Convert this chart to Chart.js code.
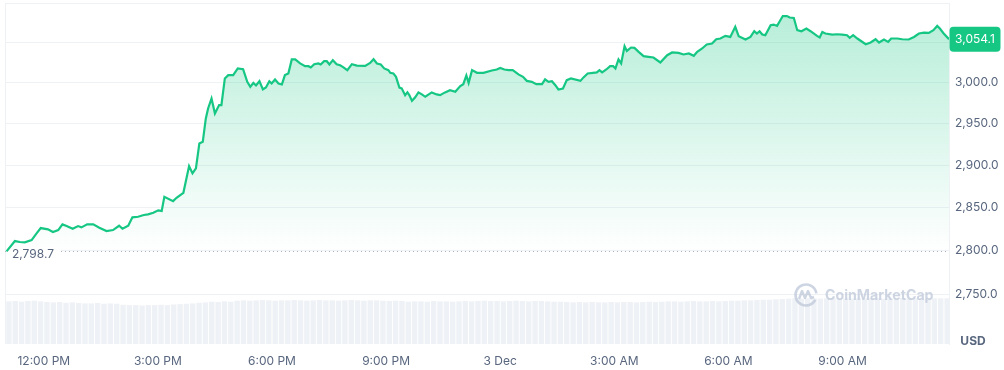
<!DOCTYPE html>
<html lang="en">
<head>
<meta charset="UTF-8">
<title>Price chart</title>
<script src="https://cdn.jsdelivr.net/npm/chart.js"></script>
<style>
  body { margin: 0; background: #fff; }
  canvas { display: block; }
</style>
</head>
<body>
<canvas id="priceChart" width="1004" height="370"></canvas>
<script>
// time in hours since 2 Dec 00:00 (24 = 3 Dec 00:00)
const hours = [11.02,11.24,11.37,11.50,11.68,11.81,11.92,12.11,12.24,12.38,12.49,12.60,12.76,12.90,12.99,13.14,13.30,13.46,13.65,13.82,13.98,14.07,14.22,14.33,14.48,14.63,14.74,14.88,15.01,15.10,
  15.17,15.40,15.49,15.67,15.82,15.91,16.00,16.09,16.18,16.26,16.32,16.41,16.50,16.61,16.67,16.76,16.85,16.98,17.10,17.24,17.35,17.43,17.51,17.58,17.67,17.76,17.84,17.93,17.99,18.08,18.17,18.26,18.34,18.43,18.52,18.61,18.74,18.87,18.96,19.02,19.11,19.22,19.28,19.37,19.44,19.51,19.60,19.70,19.79,
  19.86,19.98,20.10,20.23,20.45,20.58,20.67,20.76,20.86,20.95,21.06,21.11,21.19,21.26,21.35,21.41,21.50,21.56,21.61,21.68,21.76,21.85,21.94,22.03,22.20,22.33,22.42,22.55,22.68,22.82,22.95,23.03,23.11,23.17,23.26,23.39,23.56,23.78,23.91,24.00,
  24.11,24.22,24.33,24.48,24.60,24.70,24.83,24.95,25.10,25.18,25.27,25.36,25.45,25.53,25.65,25.75,25.86,26.11,26.19,26.30,26.44,26.54,26.61,26.68,26.79,26.89,26.97,27.03,27.11,27.18,27.27,27.33,27.44,27.53,27.64,27.77,27.90,28.03,28.21,28.39,28.52,
  28.69,28.82,28.96,29.09,29.18,29.31,29.43,29.57,29.68,29.79,29.92,30.05,30.18,30.27,30.45,30.58,30.68,30.75,30.82,30.89,30.97,31.11,31.19,31.28,31.43,31.54,31.61,31.72,31.81,31.92,32.05,32.16,32.33,32.40,32.47,32.55,32.73,32.86,32.99,33.12,
  33.19,33.28,33.39,33.61,33.74,33.87,33.96,34.09,34.20,34.28,34.44,34.57,34.74,34.88,35.01,35.14,35.27,35.39,35.49,35.56,35.66,35.80];

const prices = [2798.7,2810.6,2809.5,2809.1,2811.8,2819.6,2825.7,2824.2,2821.1,2823.4,2830.0,2828.0,2824.9,2828.0,2826.5,2830.0,2830.0,2826.1,2822.2,2823.4,2828.4,2824.9,2828.4,2838.2,2838.9,2840.9,2841.7,2843.6,2846.4,2845.6,
  2862.3,2857.2,2861.1,2867.0,2898.7,2890.0,2895.9,2925.9,2927.8,2956.2,2968.3,2980.6,2962.2,2972.4,2972.4,3005.2,3009.3,3009.3,3017.6,3016.7,3001.0,2994.8,2999.7,2996.5,3001.8,2991.6,2994.1,3001.8,2999.0,3004.0,2999.0,2997.8,3009.3,3011.4,3028.8,3028.8,3023.8,3020.4,3020.4,3018.8,3022.9,3023.8,3022.5,3026.6,3026.6,3022.5,3027.9,3022.9,3021.6,
  3019.5,3015.5,3022.9,3021.2,3020.8,3024.5,3029.1,3023.8,3022.5,3017.6,3015.5,3012.2,3011.4,3007.2,2993.8,2993.0,2984.6,2988.0,2984.6,2977.6,2981.7,2988.0,2985.5,2982.6,2988.0,2985.5,2984.6,2988.0,2990.7,2988.7,2995.7,2998.1,3008.9,2999.7,3015.5,3012.2,3012.2,3015.1,3016.3,3018.3,
  3016.3,3015.5,3015.5,3010.2,3007.2,3002.2,3001.0,2998.1,2998.1,3004.0,3001.0,3001.8,2996.9,2991.6,2992.8,3003.1,3005.2,3002.2,3006.5,3011.4,3012.2,3012.7,3015.5,3012.7,3016.3,3020.4,3020.4,3017.6,3028.8,3023.8,3045.3,3039.4,3043.7,3043.2,3038.2,3032.9,3032.0,3031.2,3025.0,3034.1,3037.5,
  3037.0,3035.0,3036.2,3033.3,3038.3,3042.5,3047.5,3048.7,3054.2,3055.0,3058.3,3057.0,3069.7,3057.9,3053.8,3057.0,3064.2,3061.3,3064.2,3060.0,3059.2,3071.8,3072.6,3070.9,3083.4,3083.4,3081.5,3080.9,3065.5,3064.2,3067.6,3064.2,3058.3,3056.3,3063.3,3061.3,3060.0,3060.4,3060.0,3059.2,
  3055.8,3059.2,3055.0,3047.9,3050.0,3054.1,3050.0,3053.8,3050.8,3055.0,3055.0,3054.1,3053.8,3057.0,3061.3,3062.5,3062.0,3065.5,3070.9,3067.6,3061.3,3054.1];

// relative volume, one bar per 10 minutes from 11:00
const volumes = [12.5,12.6,12.4,12.6,12.7,12.5, 12.3,12.2,12.3,12.1,12.2,
  12.0,11.9,11.9,12.0,11.8,11.9,11.8, 11.5,11.4,11.4,11.3,11.4,11.4,11.5,11.4,
  11.6,11.7,11.8,11.9,12.1, 12.2,12.4,12.3,12.5,12.4,
  12.7,12.8,12.7,12.8,12.9,12.8,12.7,12.8,12.8,12.9,12.8,12.7,12.8,12.9,12.8,12.8,12.7,12.8,12.9,12.8,12.7,12.8,12.8,12.7,12.6,12.7,12.6,
  12.4,12.5,12.5,12.4,12.6,12.5,12.5,12.4,12.5,12.6,12.5,
  12.6,12.7,12.6,12.6,12.5,12.6,12.7,12.6,12.5,12.6,12.6,12.5,12.4,12.4,
  12.3,12.2,12.3,12.2,12.3,12.2,12.2,12.3,12.2,12.3,12.3,12.2,12.3,12.4,12.3,12.4,
  12.5,12.5,12.4,12.5,12.6,12.5,12.5,12.6,12.5,12.6,12.7,12.7,12.8,12.8,
  12.9,13.0,13.0,13.1,13.2,
  13.3,13.4,13.3,13.4,13.4,13.3,13.4,13.5,13.4,13.4,13.3,13.4,13.4,13.5,13.4,13.3,13.4,13.4,13.5,13.4,13.4,13.3,13.4,13.4,13.4,13.4];
const volStart = 11 + 5 / 60;
const volStep = 10 / 60;

const xTicks = [12, 15, 18, 21, 24, 27, 30, 33];
const xTickLabels = ['12:00 PM', '3:00 PM', '6:00 PM', '9:00 PM', '3 Dec', '3:00 AM', '6:00 AM', '9:00 AM'];
const yTicks = [2750, 2800, 2850, 2900, 2950, 3000, 3050, 3100];

const openPrice = 2798.7;
const lastPrice = 3054.1;

const GREEN = '#16c784';
const GREY_TEXT = '#58667e';
const GRID = '#eff2f5';
const FONT = 'Inter, "Noto Sans", sans-serif';

const fmt = v => v.toLocaleString('en-US', { minimumFractionDigits: 1, maximumFractionDigits: 1 });

const extras = {
  id: 'extras',
  beforeDatasetsDraw(chart) {
    const { ctx, chartArea: a, scales: { y } } = chart;
    ctx.save();
    // left frame line
    ctx.strokeStyle = GRID;
    ctx.lineWidth = 1;
    ctx.beginPath();
    ctx.moveTo(a.left + 0.5, a.top);
    ctx.lineTo(a.left + 0.5, a.bottom);
    ctx.stroke();
    // open price dotted line
    const yo = Math.round(y.getPixelForValue(openPrice)) + 0.5;
    ctx.strokeStyle = '#a7b1c2';
    ctx.setLineDash([1, 3]);
    ctx.beginPath();
    ctx.moveTo(a.left, yo);
    ctx.lineTo(a.right, yo);
    ctx.stroke();
    ctx.setLineDash([]);
    ctx.font = '12px ' + FONT;
    const label = fmt(openPrice);
    const w = ctx.measureText(label).width;
    ctx.fillStyle = '#fff';
    ctx.fillRect(a.left + 4, yo - 5, w + 10, 13);
    ctx.fillStyle = GREY_TEXT;
    ctx.textBaseline = 'middle';
    ctx.fillText(label, a.left + 7, yo + 2.5);
    ctx.restore();
  },
  afterDatasetsDraw(chart) {
    const { ctx } = chart;
    ctx.save();
    // watermark
    const col = 'rgba(190,199,216,0.75)';
    const cx = 806, cy = 295;
    ctx.strokeStyle = col;
    ctx.lineWidth = 2.6;
    ctx.beginPath();
    ctx.arc(cx, cy, 10.5, 0.15 * Math.PI, 1.95 * Math.PI);
    ctx.stroke();
    ctx.lineWidth = 2.4;
    ctx.lineJoin = 'round';
    ctx.beginPath();
    ctx.moveTo(cx - 7, cy + 4);
    ctx.lineTo(cx - 4, cy - 4);
    ctx.lineTo(cx - 1, cy + 3);
    ctx.lineTo(cx + 2, cy - 4);
    ctx.lineTo(cx + 5, cy + 3);
    ctx.lineTo(cx + 8, cy + 2);
    ctx.stroke();
    let size = 16;
    ctx.font = 'bold ' + size + 'px ' + FONT;
    size = size * 109 / ctx.measureText('CoinMarketCap').width;
    ctx.font = 'bold ' + size.toFixed(1) + 'px ' + FONT;
    ctx.fillStyle = col;
    ctx.textBaseline = 'middle';
    ctx.fillText('CoinMarketCap', 825, cy + 1);
    ctx.restore();
  },
  afterDraw(chart) {
    const { ctx, chartArea: a, scales: { y } } = chart;
    ctx.save();
    // last price tag
    const yp = y.getPixelForValue(lastPrice);
    const bx = a.right + 0.5, bw = 51, bh = 25;
    ctx.fillStyle = GREEN;
    ctx.beginPath();
    ctx.roundRect(bx, yp - bh / 2, bw, bh, 4);
    ctx.fill();
    ctx.fillStyle = '#fff';
    ctx.font = '12px ' + FONT;
    ctx.textAlign = 'center';
    ctx.textBaseline = 'middle';
    ctx.fillText(fmt(lastPrice), bx + bw / 2, yp + 0.5);
    // currency
    ctx.fillStyle = GREY_TEXT;
    ctx.font = 'bold 12px ' + FONT;
    ctx.fillText('USD', 973, 341);
    ctx.restore();
  }
};

const ctx = document.getElementById('priceChart').getContext('2d');
const chart = new Chart(ctx, {
  type: 'line',
  data: {
    datasets: [{
      type: 'line',
      data: hours.map((h, i) => ({ x: h, y: prices[i] })),
      yAxisID: 'y',
      borderColor: GREEN,
      borderWidth: 2.2,
      pointRadius: 0,
      tension: 0,
      fill: { value: openPrice },
      backgroundColor: (c) => {
        const a = c.chart.chartArea;
        if (!a) return 'rgba(22,199,132,0.2)';
        const yb = c.chart.scales.y.getPixelForValue(openPrice);
        const g = c.chart.ctx.createLinearGradient(0, a.top, 0, yb);
        g.addColorStop(0, 'rgba(22,199,132,0.32)');
        g.addColorStop(1, 'rgba(22,199,132,0)');
        return g;
      },
      order: 0
    }, {
      type: 'bar',
      data: volumes.map((v, i) => ({ x: volStart + i * volStep, y: v })),
      yAxisID: 'vol',
      backgroundColor: '#eef1f5',
      barPercentage: 0.85,
      categoryPercentage: 1,
      order: 1
    }]
  },
  options: {
    responsive: false,
    animation: false,
    layout: { padding: { left: 5, top: 3, right: 0, bottom: 0 } },
    plugins: { legend: { display: false }, tooltip: { enabled: false } },
    scales: {
      x: {
        type: 'linear',
        min: 10.98,
        max: 35.8,
        offset: false,
        afterBuildTicks: s => { s.ticks = xTicks.map(v => ({ value: v })); },
        afterFit: s => { s.height = 26; s.paddingLeft = 0; s.paddingRight = 0; },
        ticks: {
          callback: v => xTickLabels[xTicks.indexOf(v)] || '',
          color: GREY_TEXT,
          font: { family: FONT, size: 12 },
          padding: 2,
          maxRotation: 0,
          autoSkip: false
        },
        grid: { display: false },
        border: { display: false }
      },
      y: {
        type: 'logarithmic',
        position: 'right',
        min: 2694,
        max: 3100,
        afterBuildTicks: s => { s.ticks = yTicks.map(v => ({ value: v })); },
        afterFit: s => { s.width = 55; s.paddingTop = 0; s.paddingBottom = 0; },
        ticks: {
          callback: v => v >= 3100 ? '' : fmt(v),
          color: GREY_TEXT,
          font: { family: FONT, size: 12 },
          padding: 6
        },
        grid: { color: GRID, drawTicks: false },
        border: { display: true, color: GRID }
      },
      vol: { type: 'linear', display: false, min: 0, max: 100 }
    }
  },
  plugins: [extras]
});
</script>
</body>
</html>
